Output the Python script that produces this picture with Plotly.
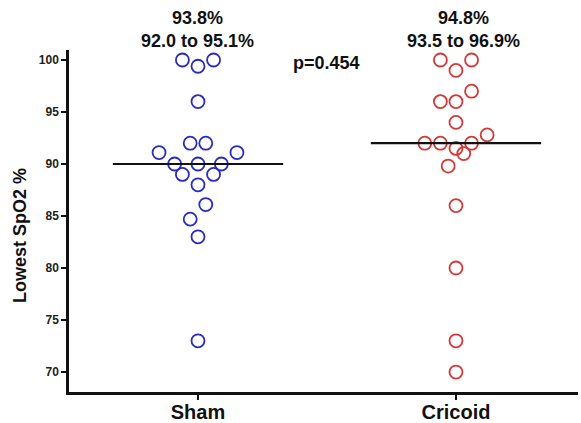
import plotly.graph_objects as go

# ---- data ----
categories = ["Sham", "Cricoid"]
sham_values = [100, 99.4, 100, 96, 92, 92, 91.1, 91.1, 90, 90, 90, 89, 89, 88, 86.1, 84.7, 83, 73]
sham_slots = [-2, 0, 2, 0, -1, 1, -5, 5, -3, 0, 3, -2, 2, 0, 1, -1, 0, 0]
cricoid_values = [100, 100, 99, 97, 96, 96, 94, 92.8, 92, 92, 92, 91.5, 91, 89.8, 86, 80, 73, 70]
cricoid_slots = [-2, 2, 0, 2, -2, 0, 0, 4, -4, -2, 2, 0, 1, -1, 0, 0, 0, 0]
medians = [90, 92]
summary_text = ["93.8%<br>92.0 to 95.1%", "94.8%<br>93.5 to 96.9%"]
p_text = "p=0.454"
y_ticks = [70, 75, 80, 85, 90, 95, 100]

colors = ["#2a2ac6", "#d63838"]
step = 0.0302
font_family = "Arial, Liberation Sans, Helvetica, sans-serif"

fig = go.Figure()
groups = [(sham_values, sham_slots), (cricoid_values, cricoid_slots)]
for i, (vals, slots) in enumerate(groups):
    xc = i + 1
    fig.add_trace(go.Scatter(
        x=[xc + s * step for s in slots], y=vals, mode="markers",
        marker=dict(symbol="circle-open", size=13, color=colors[i], line=dict(width=1.8, color=colors[i])),
        showlegend=False, hoverinfo="y"))
    fig.add_trace(go.Scatter(
        x=[xc - 0.33, xc + 0.33], y=[medians[i], medians[i]], mode="lines",
        line=dict(color="#111111", width=2.2), showlegend=False, hoverinfo="skip"))

for i, t in enumerate(summary_text):
    fig.add_annotation(x=(i + 1) + (0.03 if i == 1 else 0), y=1.0585, xref="x", yref="paper",
                       text=t, showarrow=False, yanchor="middle", xanchor="center",
                       font=dict(size=18, family=font_family, color="#111111", weight="bold"))
fig.add_annotation(x=1.5, y=0.962, xref="x", yref="paper", text=p_text, showarrow=False,
                   yanchor="middle", xanchor="center",
                   font=dict(size=18, family=font_family, color="#111111", weight="bold"))
fig.add_annotation(x=-0.0963, y=0.459, xref="paper", yref="paper", text="Lowest SpO2 %",
                   textangle=-90, showarrow=False, xanchor="center", yanchor="middle",
                   font=dict(size=18, family=font_family, color="#111111", weight="bold"))

fig.update_layout(
    width=581, height=423,
    margin=dict(l=69, r=3, t=50, b=31, autoexpand=False),
    paper_bgcolor="white", plot_bgcolor="white",
    showlegend=False,
    xaxis=dict(range=[0.5, 2.473], tickvals=[1, 2], ticktext=categories, automargin=False,
               showline=True, linecolor="#111111", linewidth=2.5,
               ticks="outside", ticklen=5, tickwidth=2, tickcolor="#111111",
               ticklabelstandoff=-5,
               showgrid=False, zeroline=False,
               tickfont=dict(size=20, family=font_family, color="#111111", weight="bold")),
    yaxis=dict(range=[68.08, 100.96], tickvals=y_ticks, automargin=False,
               showline=True, linecolor="#111111", linewidth=2.5,
               ticks="outside", ticklen=5, tickwidth=2, tickcolor="#111111",
               showgrid=False, zeroline=False,
               tickfont=dict(size=12, family=font_family, color="#222222", weight="bold")),
)

fig.write_html("out.html")
